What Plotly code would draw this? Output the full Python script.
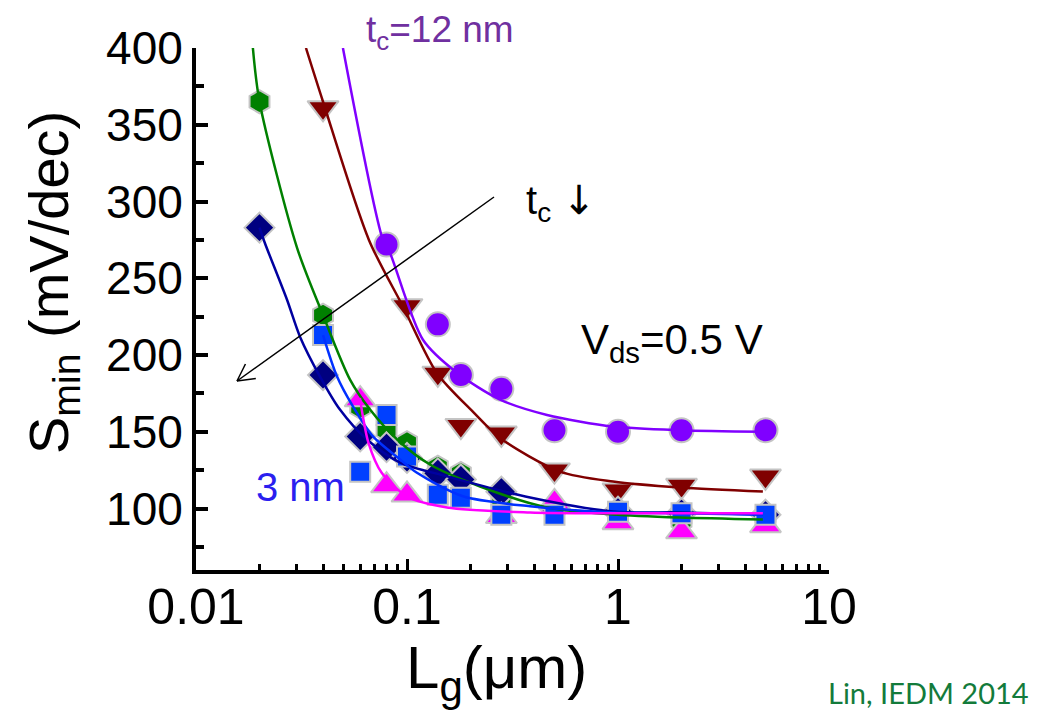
import math
import plotly.graph_objects as go

# ---------------- data ----------------
# measured points, Lg in um, Smin in mV/dec
lg_12nm = [0.08, 0.14, 0.18, 0.28, 0.5, 1, 2, 5]
s_12nm = [272, 220, 187, 178, 151, 150, 151, 151]

lg_red = [0.04, 0.1, 0.14, 0.18, 0.28, 0.5, 1, 2, 5]
s_red = [361, 232, 188, 154, 149, 125, 112, 115, 121]

lg_green = [0.02, 0.04, 0.06, 0.08, 0.1, 0.14, 0.18, 0.28, 0.5, 1, 2, 5]
s_green = [365, 226, 166, 151, 143, 127, 123, 105, 100, 97, 92, 95]

lg_navy = [0.02, 0.04, 0.06, 0.08, 0.1, 0.14, 0.18, 0.28, 0.5, 1, 2, 5]
s_navy = [283, 187, 147, 140, 133, 123, 119, 111, 100, 98, 97, 96]

lg_pink = [0.06, 0.08, 0.1, 0.28, 0.5, 1, 2, 5]
s_pink = [171, 115, 109, 95, 104, 91, 85, 89]

lg_3nm = [0.04, 0.06, 0.08, 0.1, 0.14, 0.18, 0.28, 0.5, 1, 2, 5]
s_3nm = [213, 124, 161, 134, 109, 107, 96, 96, 98, 97, 96]

# fitted curves
fit_12nm_x = [0.0497, 0.0769, 0.083, 0.119, 0.1726, 0.276, 0.461, 0.947, 1.97, 4.86]
fit_12nm_y = [400, 275, 266.6, 210, 188.5, 171, 161, 153.4, 151, 150]

fit_red_x = [0.0332, 0.04, 0.066, 0.0958, 0.139, 0.2056, 0.276, 0.531, 0.947, 1.97, 4.86]
fit_red_y = [400, 365, 275, 231.5, 188, 163, 146, 124.1, 117.6, 113.7, 111.1]

fit_green_x = [0.0186, 0.02, 0.0301, 0.04, 0.0537, 0.0668, 0.0898, 0.1285, 0.222, 0.461, 0.947, 1.97, 4.86]
fit_green_y = [400, 365, 270, 226, 184, 164.5, 145, 128.7, 114.4, 100.7, 96.2, 94.2, 92.9]

fit_navy_x = [0.02, 0.0212, 0.027, 0.0311, 0.0387, 0.0481, 0.0646, 0.0927, 0.155, 0.383, 0.947, 1.97, 4.86]
fit_navy_y = [283, 273, 236, 212, 186, 164.5, 145, 130, 121, 107.2, 98.1, 97.5, 96.2]

fit_3nm_x = [0.04, 0.0466, 0.0555, 0.069, 0.0927, 0.111, 0.184, 0.383, 0.947, 1.97, 4.86]
fit_3nm_y = [213, 186, 166.4, 147, 132, 123.5, 108, 101.5, 97.5, 97, 96]

fit_pink_x = [0.0598, 0.0618, 0.0656, 0.0757, 0.1, 0.155, 0.383, 1, 4.86]
fit_pink_y = [172, 160, 143, 123.5, 108, 100.7, 97.5, 97, 97]

x_ticks = [0.01, 0.1, 1, 10]
x_ticktext = ["0.01", "0.1", "1", "10"]

# ---------------- styling ----------------
FONT = "Liberation Sans, Arial, sans-serif"
BODY = 8  # page body margin of the browser
W, H = 1037 - BODY, 721 - BODY
L, T = 196 - BODY, 48 - BODY
PW, PH = 633, 522
R, B = W - L - PW, H - T - PH

# page-pixel -> paper coordinates
def px(xp):
    return (xp - 196) / PW

def py(yp):
    return (570 - yp) / PH

OUT = "#c4c4c4"

fig = go.Figure()

marker_sets = [
    (lg_12nm, s_12nm, "circle", "#8000ff", 24),
    (lg_red, s_red, "triangle-down", "#800000", 27),
    (lg_green, s_green, "hexagon", "#008000", 23),
    (lg_navy, s_navy, "diamond", "#000080", 23),
    (lg_pink, s_pink, "triangle-up", "#ff00ff", 27),
    (lg_3nm, s_3nm, "square", "#0040ff", 20),
]
for xs, ys, sym, col, sz in marker_sets:
    fig.add_trace(go.Scatter(
        x=xs, y=ys, mode="markers",
        marker=dict(symbol=sym, color=col, size=sz, line=dict(color=OUT, width=2)),
        showlegend=False, cliponaxis=False))

line_sets = [
    (fit_12nm_x, fit_12nm_y, "#8000ff"),
    (fit_red_x, fit_red_y, "#800000"),
    (fit_green_x, fit_green_y, "#008000"),
    (fit_navy_x, fit_navy_y, "#0000a0"),
    (fit_3nm_x, fit_3nm_y, "#0030ff"),
    (fit_pink_x, fit_pink_y, "#ff00ff"),
]
for xs, ys, col in line_sets:
    fig.add_trace(go.Scatter(
        x=xs, y=ys, mode="lines",
        line=dict(color=col, width=2.5, shape="spline", smoothing=0.8),
        showlegend=False))

# arrow (t_c decreasing)
tail = (494, 197)
head = (237, 381)
shapes = [dict(type="line", xref="paper", yref="paper",
               x0=px(tail[0]), y0=py(tail[1]), x1=px(head[0]), y1=py(head[1]),
               line=dict(color="black", width=1.5))]
dx, dy = tail[0] - head[0], tail[1] - head[1]
n = math.hypot(dx, dy)
ux, uy = dx / n, dy / n
for ang in (28, -28):
    a = math.radians(ang)
    vx = ux * math.cos(a) - uy * math.sin(a)
    vy = ux * math.sin(a) + uy * math.cos(a)
    shapes.append(dict(type="line", xref="paper", yref="paper",
                       x0=px(head[0]), y0=py(head[1]),
                       x1=px(head[0] + 19 * vx), y1=py(head[1] + 19 * vy),
                       line=dict(color="black", width=1.5)))

annotations = [
    dict(text="t<sub>c</sub>=12 nm", x=px(440), y=py(32), font=dict(size=37, color="#7030a0", family=FONT)),
    dict(text="t<sub>c</sub> <span style='font-family:DejaVu Sans'>↓</span>", x=px(561), y=py(203), font=dict(size=40, color="black", family=FONT)),
    dict(text="V<sub>ds</sub>=0.5 V", x=px(672), y=py(342), font=dict(size=42, color="black", family=FONT)),
    dict(text="3 nm", x=px(300), y=py(487), font=dict(size=40, color="#2b1fef", family=FONT)),
    dict(text="Lin, IEDM 2014", x=px(1031), y=py(692), xanchor="right",
         font=dict(size=29, color="#137b3b", family="Lato, Open Sans, sans-serif")),
    dict(text="L<sub>g</sub>(μm)", x=px(496), y=py(672), font=dict(size=60, color="black", family=FONT)),
    dict(text="S<sub>min</sub> (mV/dec)", x=px(52), y=py(283), textangle=-90,
         font=dict(size=56, color="black", family=FONT)),
]
for a in annotations:
    a.setdefault("xanchor", "center")
    a.update(xref="paper", yref="paper", showarrow=False, yanchor="middle")

fig.update_layout(
    width=W, height=H,
    margin=dict(l=L, r=R, t=T, b=B, pad=0),
    paper_bgcolor="white", plot_bgcolor="white",
    font=dict(family=FONT, color="black"),
    shapes=shapes, annotations=annotations,
    xaxis=dict(
        type="log", range=[-2, 1], automargin=False,
        tickmode="array", tickvals=x_ticks, ticktext=x_ticktext,
        ticks="inside", ticklen=11, tickwidth=3, tickcolor="black",
        showline=True, linewidth=4, linecolor="black", mirror=False,
        showgrid=False, zeroline=False, ticklabelstandoff=-10,
        tickfont=dict(size=50, family=FONT, color="black"),
        minor=dict(ticks="inside", ticklen=6, tickwidth=3, tickcolor="black", dtick="D1", showgrid=False),
    ),
    yaxis=dict(
        range=[60, 400], tick0=0, dtick=50, automargin=False,
        ticks="inside", ticklen=12, tickwidth=4, tickcolor="black",
        showline=True, linewidth=4, linecolor="black", mirror=False,
        showgrid=False, zeroline=False,
        tickfont=dict(size=46, family=FONT, color="black"),
        minor=dict(ticks="inside", ticklen=8, tickwidth=4, tickcolor="black", dtick=25, showgrid=False),
    ),
)

fig.write_html("out.html")
